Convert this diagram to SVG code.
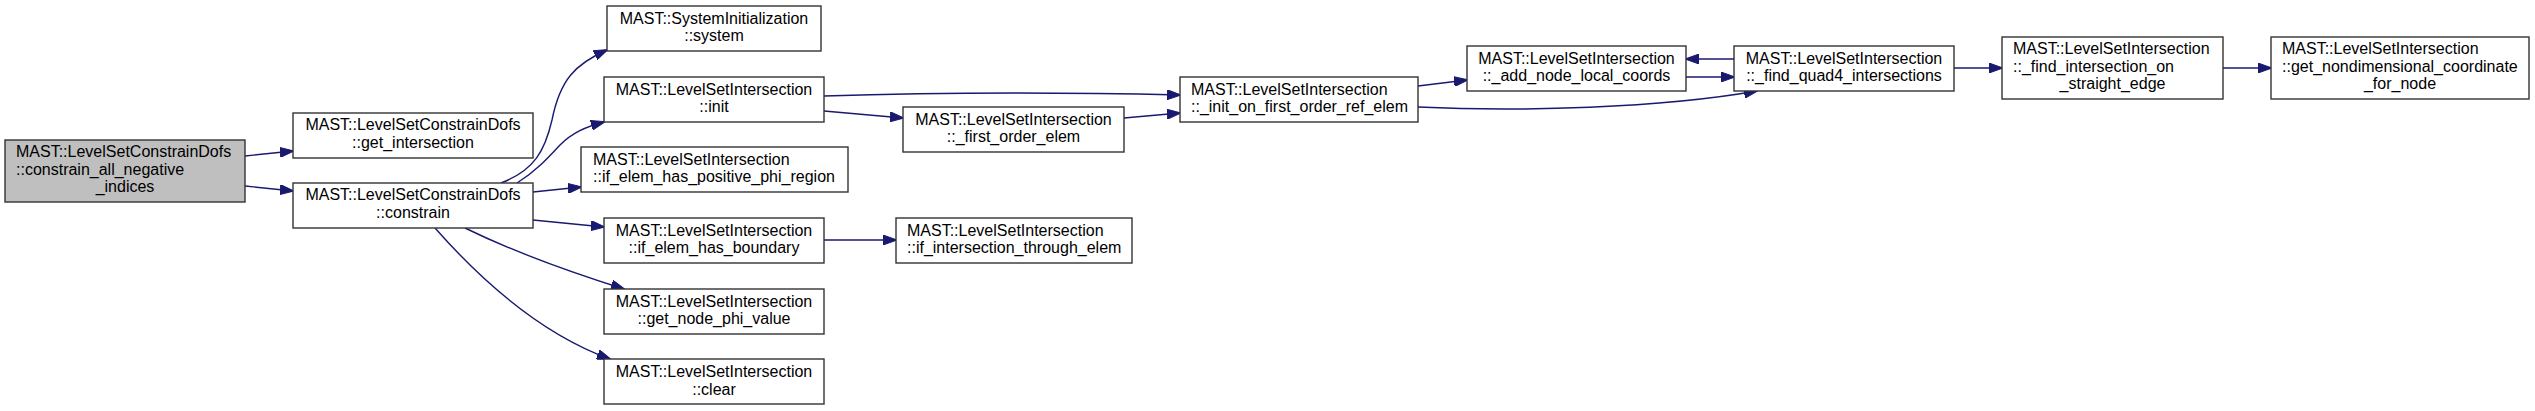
<svg xmlns="http://www.w3.org/2000/svg" width="2535" height="411" viewBox="0 0 2535 411">
<style>
.n rect{fill:#ffffff;stroke:#333333;stroke-width:1.4}
.root rect{fill:#bfbfbf}
text{font-family:"Liberation Sans",Arial,sans-serif;font-size:16px;fill:#000000}
.c{text-anchor:middle}
.l{text-anchor:start}
#edges path{fill:none;stroke:#191970;stroke-width:1.4;marker-end:url(#ah)}
</style>
<defs>
<marker id="ah" viewBox="0 0 14 10" markerWidth="14" markerHeight="10" refX="13" refY="5" orient="auto" markerUnits="userSpaceOnUse">
<path d="M0,0 L14,5 L0,10 z" fill="#191970" stroke="#191970" stroke-width="1"/>
</marker>
</defs>
<rect width="2535" height="411" fill="#ffffff"/>
<g id="edges">
<path d="M245,156 L293,151"/>
<path d="M245,186 L293,191"/>
<path d="M501,183 C535,170 545,150 552,120 C560,80 575,64 607,50"/>
<path d="M517,183 C535,172 548,158 560,145 C572,133 585,127 604,122"/>
<path d="M533,192 L581,187"/>
<path d="M533,220 L604,227"/>
<path d="M465,228 C510,250 570,272 624,289"/>
<path d="M435,228 C465,262 530,330 610,359"/>
<path d="M824,111 L903,118"/>
<path d="M824,96 C950,92 1050,92 1180,95"/>
<path d="M1124,118 L1180,113"/>
<path d="M824,240 L896,240"/>
<path d="M1418,86 L1467,80"/>
<path d="M1418,107 C1520,112 1660,108 1757,91"/>
<path d="M1734,59 L1686,59"/>
<path d="M1686,77 L1734,77"/>
<path d="M1954,68 L2002,68"/>
<path d="M2223,68 L2271,68"/>
</g>
<g id="node_root" class="n root">
<rect x="5" y="140" width="240" height="62"/>
<text class="l" x="16" y="157">MAST::LevelSetConstrainDofs</text>
<text class="l" x="16" y="175">::constrain_all_negative</text>
<text class="c" x="125" y="192">_indices</text>
</g>
<g id="node_get_intersection" class="n">
<rect x="293" y="113" width="240" height="45"/>
<text class="c" x="413" y="130">MAST::LevelSetConstrainDofs</text>
<text class="c" x="413" y="148">::get_intersection</text>
</g>
<g id="node_constrain" class="n">
<rect x="293" y="183" width="240" height="45"/>
<text class="c" x="413" y="200">MAST::LevelSetConstrainDofs</text>
<text class="c" x="413" y="218">::constrain</text>
</g>
<g id="node_system" class="n">
<rect x="607" y="6" width="214" height="45"/>
<text class="c" x="714" y="24">MAST::SystemInitialization</text>
<text class="c" x="714" y="41">::system</text>
</g>
<g id="node_init" class="n">
<rect x="604" y="77" width="220" height="45"/>
<text class="c" x="714" y="95">MAST::LevelSetIntersection</text>
<text class="c" x="714" y="112">::init</text>
</g>
<g id="node_positive_phi" class="n">
<rect x="581" y="147" width="267" height="45"/>
<text class="l" x="593" y="165">MAST::LevelSetIntersection</text>
<text class="l" x="593" y="182">::if_elem_has_positive_phi_region</text>
</g>
<g id="node_boundary" class="n">
<rect x="604" y="218" width="220" height="45"/>
<text class="c" x="714" y="236">MAST::LevelSetIntersection</text>
<text class="c" x="714" y="253">::if_elem_has_boundary</text>
</g>
<g id="node_phi_value" class="n">
<rect x="604" y="289" width="220" height="45"/>
<text class="c" x="714" y="307">MAST::LevelSetIntersection</text>
<text class="c" x="714" y="324">::get_node_phi_value</text>
</g>
<g id="node_clear" class="n">
<rect x="604" y="359" width="220" height="45"/>
<text class="c" x="714" y="377">MAST::LevelSetIntersection</text>
<text class="c" x="714" y="395">::clear</text>
</g>
<g id="node_first_order_elem" class="n">
<rect x="903" y="107" width="221" height="45"/>
<text class="c" x="1013.5" y="125">MAST::LevelSetIntersection</text>
<text class="c" x="1013.5" y="142">::_first_order_elem</text>
</g>
<g id="node_through_elem" class="n">
<rect x="896" y="218" width="236" height="45"/>
<text class="l" x="907" y="236">MAST::LevelSetIntersection</text>
<text class="l" x="907" y="253">::if_intersection_through_elem</text>
</g>
<g id="node_init_on_first_order" class="n">
<rect x="1180" y="77" width="238" height="45"/>
<text class="l" x="1191" y="95">MAST::LevelSetIntersection</text>
<text class="l" x="1191" y="112">::_init_on_first_order_ref_elem</text>
</g>
<g id="node_add_node" class="n">
<rect x="1467" y="46" width="219" height="45"/>
<text class="c" x="1576.5" y="64">MAST::LevelSetIntersection</text>
<text class="c" x="1576.5" y="81">::_add_node_local_coords</text>
</g>
<g id="node_find_quad4" class="n">
<rect x="1734" y="46" width="220" height="45"/>
<text class="c" x="1844" y="64">MAST::LevelSetIntersection</text>
<text class="c" x="1844" y="81">::_find_quad4_intersections</text>
</g>
<g id="node_find_intersection" class="n">
<rect x="2002" y="37" width="221" height="62"/>
<text class="l" x="2013" y="54">MAST::LevelSetIntersection</text>
<text class="l" x="2013" y="72">::_find_intersection_on</text>
<text class="c" x="2112.5" y="89">_straight_edge</text>
</g>
<g id="node_nondim" class="n">
<rect x="2271" y="37" width="258" height="62"/>
<text class="l" x="2282" y="54">MAST::LevelSetIntersection</text>
<text class="l" x="2282" y="72">::get_nondimensional_coordinate</text>
<text class="c" x="2400" y="89">_for_node</text>
</g>
</svg>
